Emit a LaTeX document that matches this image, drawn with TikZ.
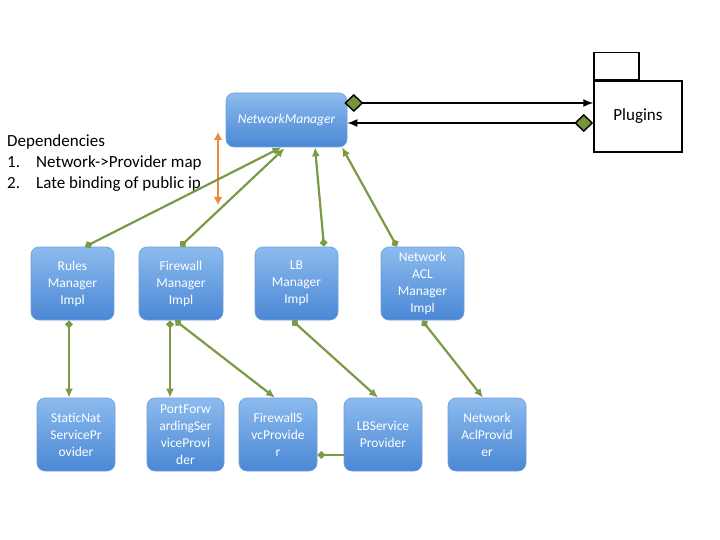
\documentclass[tikz,border=0pt]{standalone}
\usepackage{fontspec}
\setmainfont{Carlito}
\usetikzlibrary{arrows.meta,calc}
\definecolor{gline}{HTML}{7A9A45}
\definecolor{dgreen}{HTML}{77933C}
\definecolor{orng}{HTML}{EE8A3C}
\definecolor{boxtop}{HTML}{8CBBEE}
\definecolor{boxbot}{HTML}{4A87D5}
\definecolor{boxedge}{HTML}{6E9FDA}
\tikzset{
  bluebox/.style={rounded corners=8pt, draw=boxedge, line width=0.6pt,
    top color=boxtop, bottom color=boxbot, text=white, align=center,
    inner sep=0pt, minimum height=73pt,
    font=\fontsize{13.5}{17}\selectfont},
  gconn/.style={draw=gline, line width=2.2pt,
    {Diamond[length=8pt,width=8pt,fill=gline]}-{Latex[length=9pt,width=8pt]}},
  bconn/.style={draw=black, line width=1.4pt,
    {Diamond[length=19pt,width=18pt,fill=dgreen]}-{Latex[length=10pt,width=8pt]}},
  pkg/.style={draw=black, line width=1.5pt, fill=white, inner sep=0pt},
}
\begin{document}
\begin{tikzpicture}[x=1pt,y=-1pt]
\useasboundingbox (0,0) rectangle (720,540);
% nodes
\node[bluebox, minimum width=121pt, minimum height=54pt] (nm) at (286.5,120) {\itshape NetworkManager};
\node[pkg, minimum width=88pt, minimum height=71pt, font=\fontsize{17}{20}\selectfont] (plug) at (638,116.5) {\raisebox{-3pt}{Plugins}};
\node[pkg, minimum width=45pt, minimum height=27pt, anchor=south west] (tab) at (plug.north west) {};

\node[bluebox, minimum width=83pt] (rules) at (72.5,283.5) {Rules\\Manager\\Impl};
\node[bluebox, minimum width=84pt] (fw) at (181,283.5) {Firewall\\Manager\\Impl};
\node[bluebox, minimum width=83pt] (lb) at (296.5,283.5) {LB\\Manager\\Impl};
\node[bluebox, minimum width=83pt] (acl) at (422.5,283.5) {Network\\ACL\\Manager\\Impl};

\node[bluebox, minimum width=78pt] (sn) at (76,434.5) {StaticNat\\ServicePr\\ovider};
\node[bluebox, minimum width=77pt] (pf) at (185.5,434.5) {PortForw\\ardingSer\\viceProvi\\der};
\node[bluebox, minimum width=78pt] (fs) at (278,434.5) {FirewallS\\vcProvide\\r};
\node[bluebox, minimum width=78pt] (ls) at (383,434.5) {LBService\\Provider};
\node[bluebox, minimum width=78pt] (na) at (487,434.5) {Network\\AclProvid\\er};

\node[anchor=base west, align=left, inner sep=0pt, font=\fontsize{17}{21}\selectfont] (dep) at (7,189)
  {Dependencies\\\makebox[29pt][l]{1.}Network->Provider map\\\makebox[29pt][l]{2.}Late binding of public ip};

% black connectors to plugins
\draw[bconn] ($(nm.east)+(-3,-17)$) -- ($(plug.west)+(0,-13.5)$);
\draw[bconn] ($(plug.west)+(0,6.5)$) -- ($(nm.east)+(0,3)$);

% orange arrow
\coordinate (o1) at (218,132);
\coordinate (o2) at (218,205);
\draw[draw=orng, line width=2pt, {Latex[length=8pt,width=9pt]}-{Latex[length=8pt,width=9pt]}] (o1) -- (o2);

% green connectors to NetworkManager
\draw[gconn] ($(rules.north)+(12.5,0)$) -- ($(nm.south)+(-5,0)$);
\draw[gconn] ($(fw.north)+(-1,0)$) -- ($(nm.south)+(-2,1)$);
\draw[gconn] ($(lb.north)+(27.5,0)$) -- ($(nm.south)+(28.5,0)$);
\draw[gconn] ($(acl.north)+(-25.5,0)$) -- ($(nm.south)+(55.5,0)$);

% green connectors to providers
\draw[gconn] ($(rules.south)+(-3.5,0)$) -- ($(sn.north)+(-7,0)$);
\draw[gconn] ($(fw.south)+(-11,0)$) -- ($(pf.north)+(-15.5,0)$);
\draw[gconn] ($(fw.south)+(-6,0)$) -- ($(fs.north)+(-3,0)$);
\draw[gconn] ($(lb.south)+(-4.5,0)$) -- ($(ls.north)+(-5,0)$);
\draw[gconn] ($(acl.south)+(-0.5,0)$) -- ($(na.north)+(-4,0)$);
\draw[draw=gline, line width=2.2pt, -{Diamond[length=8pt,width=8pt,fill=gline]}] ($(ls.west)+(0,20.5)$) -- ($(fs.east)+(0,20.5)$);
\end{tikzpicture}
\end{document}
